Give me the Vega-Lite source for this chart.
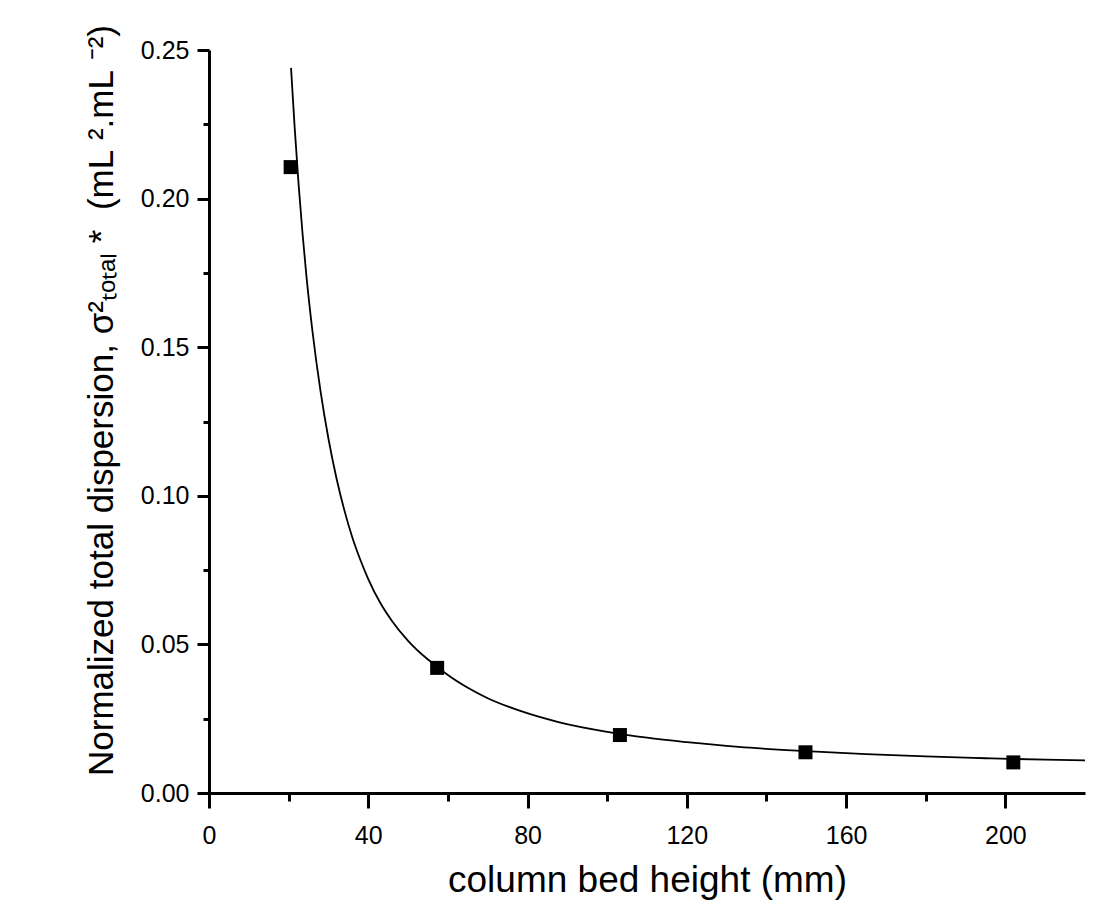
{
  "$schema": "https://vega.github.io/schema/vega-lite/v6.json",
  "autosize": "none",
  "width": 876,
  "height": 743,
  "padding": {"left": 209, "top": 50, "right": 34, "bottom": 125},
  "background": "white",
  "config": {
    "view": {"stroke": null},
    "font": "Liberation Sans",
    "axis": {
      "domainColor": "black",
      "domainWidth": 3,
      "tickColor": "black",
      "tickWidth": 3,
      "grid": false,
      "labelColor": "black",
      "titleColor": "black",
      "labelFont": "Liberation Sans",
      "titleFont": "Liberation Sans",
      "titleFontWeight": "normal"
    }
  },
  "datasets": {
    "points": [
      {"height": 20.5, "dispersion": 0.2106},
      {"height": 57.3, "dispersion": 0.0421},
      {"height": 103.2, "dispersion": 0.0195},
      {"height": 149.8, "dispersion": 0.0137},
      {"height": 202.0, "dispersion": 0.0103}
    ],
    "fit": [
      {"height": 20.6, "dispersion": 0.2440},
      {"height": 21.5, "dispersion": 0.2242},
      {"height": 22.5, "dispersion": 0.2048},
      {"height": 23.5, "dispersion": 0.1881},
      {"height": 24.5, "dispersion": 0.1735},
      {"height": 26.0, "dispersion": 0.1552},
      {"height": 28.0, "dispersion": 0.1353},
      {"height": 30.0, "dispersion": 0.1192},
      {"height": 32.0, "dispersion": 0.1060},
      {"height": 34.0, "dispersion": 0.0951},
      {"height": 36.0, "dispersion": 0.0860},
      {"height": 38.0, "dispersion": 0.0785},
      {"height": 40.0, "dispersion": 0.0720},
      {"height": 43.0, "dispersion": 0.0640},
      {"height": 46.0, "dispersion": 0.0578},
      {"height": 50.0, "dispersion": 0.0512},
      {"height": 55.0, "dispersion": 0.0449},
      {"height": 57.3, "dispersion": 0.0425},
      {"height": 60.0, "dispersion": 0.0397},
      {"height": 65.0, "dispersion": 0.0354},
      {"height": 70.0, "dispersion": 0.0319},
      {"height": 78.0, "dispersion": 0.0277},
      {"height": 88.0, "dispersion": 0.0238},
      {"height": 100.0, "dispersion": 0.0206},
      {"height": 110.0, "dispersion": 0.0186},
      {"height": 120.0, "dispersion": 0.0171},
      {"height": 133.0, "dispersion": 0.0155},
      {"height": 150.0, "dispersion": 0.0141},
      {"height": 165.0, "dispersion": 0.0131},
      {"height": 180.0, "dispersion": 0.0123},
      {"height": 195.0, "dispersion": 0.0117},
      {"height": 210.0, "dispersion": 0.0112},
      {"height": 220.0, "dispersion": 0.0110}
    ]
  },
  "layer": [
    {
      "data": {"name": "fit"},
      "mark": {"type": "line", "color": "black", "strokeWidth": 1.8, "interpolate": "monotone", "clip": true},
      "encoding": {
        "x": {
          "field": "height", "type": "quantitative",
          "scale": {"domain": [0, 220], "nice": false, "zero": false},
          "axis": {
            "title": "column bed height (mm)",
            "titleFontSize": 37,
            "titlePadding": 14,
            "values": [0, 20, 40, 60, 80, 100, 120, 140, 160, 180, 200],
            "labelExpr": "datum.value % 40 === 0 ? format(datum.value, 'd') : ''",
            "labelFontSize": 25,
            "labelPadding": 15,
            "tickSize": {"condition": {"test": "datum.value % 40 !== 0", "value": 8}, "value": 15},
            "labelFlush": false,
            "labelOverlap": false
          }
        },
        "y": {
          "field": "dispersion", "type": "quantitative",
          "scale": {"domain": [0, 0.25], "nice": false},
          "axis": {
            "title": "Normalized total dispersion, σ²ₜₒₜₐₗ\u00a0* \u00a0(mL\u00a0².mL\u00a0⁻²)",
            "titleFontSize": 35,
            "titlePadding": 21,
            "titleY": 350,
            "values": [0, 0.025, 0.05, 0.075, 0.1, 0.125, 0.15, 0.175, 0.2, 0.225, 0.25],
            "labelExpr": "round(datum.value * 1000) % 50 === 0 ? format(datum.value, '.2f') : ''",
            "labelFontSize": 25,
            "labelPadding": 8,
            "tickSize": {"condition": {"test": "round(datum.value * 1000) % 50 !== 0", "value": 6}, "value": 12},
            "labelFlush": false,
            "labelOverlap": false
          }
        }
      }
    },
    {
      "data": {"name": "points"},
      "mark": {"type": "point", "shape": "square", "filled": true, "color": "black", "size": 196, "opacity": 1},
      "encoding": {
        "x": {"field": "height", "type": "quantitative"},
        "y": {"field": "dispersion", "type": "quantitative"}
      }
    }
  ]
}
